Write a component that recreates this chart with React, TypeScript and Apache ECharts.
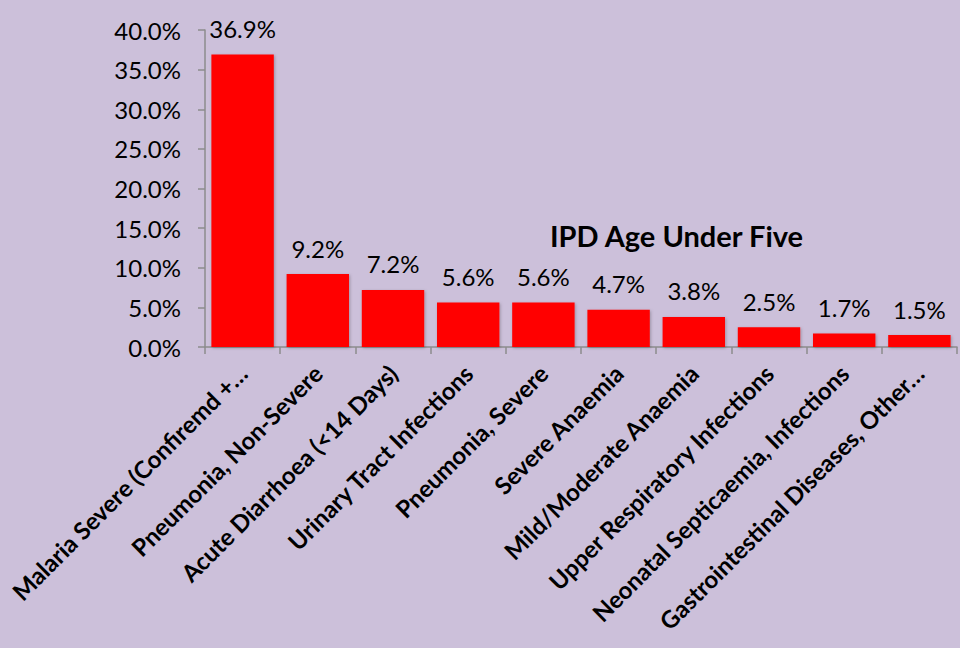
import React, { useEffect, useRef } from "react";
import * as echarts from "echarts";

const categories = [
  "Malaria Severe (Confiremd +…",
  "Pneumonia, Non-Severe",
  "Acute Diarrhoea (<14 Days)",
  "Urinary Tract Infections",
  "Pneumonia, Severe",
  "Severe Anaemia",
  "Mild/Moderate Anaemia",
  "Upper Respiratory Infections",
  "Neonatal Septicaemia, Infections",
  "Gastrointestinal Diseases, Other…",
];
const values = [36.9, 9.2, 7.2, 5.6, 5.6, 4.7, 3.8, 2.5, 1.7, 1.5];
const chartTitle = "IPD Age Under Five";

const FONT = "Lato, 'Open Sans', sans-serif";

export default function App() {
  const ref = useRef<HTMLDivElement>(null);
  useEffect(() => {
    if (!ref.current) return;
    const chart = echarts.init(ref.current, null, { renderer: "svg" });
    chart.setOption({
      animation: false,
      backgroundColor: "#CCC0DA",
      title: {
        text: chartTitle,
        left: 545,
        top: 216,
        textStyle: { fontFamily: FONT, fontWeight: "bold", fontSize: 29, color: "#000" },
      },
      grid: { left: 205, right: 3, top: 30, bottom: 301, containLabel: false },
      xAxis: {
        type: "category",
        data: categories,
        axisLine: { lineStyle: { color: "#8C8C8C", width: 1.5 } },
        axisTick: { show: true, alignWithLabel: false, length: 7, lineStyle: { color: "#8C8C8C", width: 1.5 } },
        axisLabel: {
          rotate: 45,
          interval: 0,
          margin: 22,
          fontFamily: FONT,
          fontWeight: "bold",
          fontSize: 24,
          color: "#000",
        },
      },
      yAxis: {
        type: "value",
        min: 0,
        max: 40,
        interval: 5,
        splitLine: { show: false },
        axisLine: { show: true, lineStyle: { color: "#8C8C8C", width: 1.5 } },
        axisTick: { show: true, length: 7, lineStyle: { color: "#8C8C8C", width: 1.5 } },
        axisLabel: {
          formatter: (v: number) => v.toFixed(1) + "%",
          fontFamily: FONT,
          fontSize: 24,
          color: "#000",
          margin: 24,
        },
      },
      series: [
        {
          type: "bar",
          data: values,
          barCategoryGap: "17%",
          itemStyle: {
            color: "#FF0000",
            shadowColor: "rgba(0,0,0,0.25)",
            shadowBlur: 3,
            shadowOffsetX: 1,
            shadowOffsetY: 1,
          },
          label: {
            show: true,
            position: "top",
            distance: 14,
            formatter: (p: any) => p.value.toFixed(1) + "%",
            fontFamily: FONT,
            fontSize: 24,
            color: "#000",
          },
        },
      ],
    });
    return () => chart.dispose();
  }, []);
  return (
    <div
      ref={ref}
      style={{ position: "fixed", left: 0, top: 0, width: 960, height: 648 }}
    />
  );
}
